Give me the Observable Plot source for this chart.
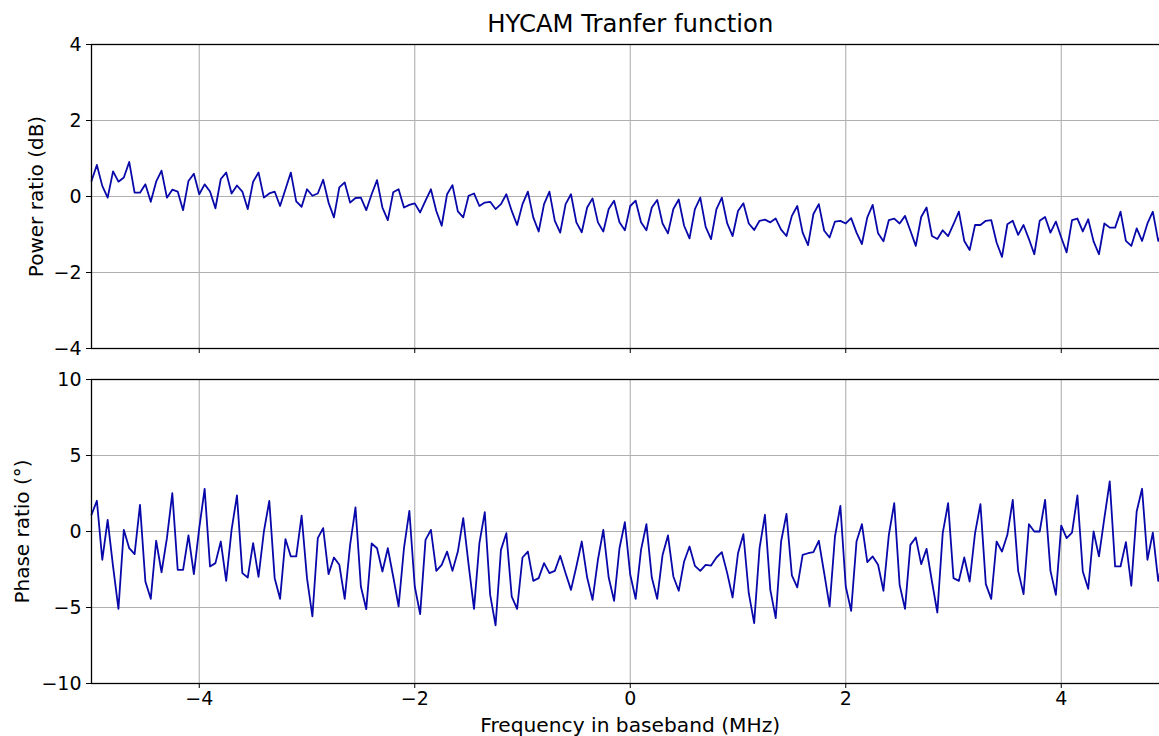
<!DOCTYPE html>
<html>
<head>
<meta charset="utf-8">
<script src="https://cdn.jsdelivr.net/npm/d3@7"></script>
<script src="https://cdn.jsdelivr.net/npm/@observablehq/plot@0.6"></script>
<style>
html, body { margin: 0; padding: 0; background: #fff; overflow: hidden; }
#wrap { position: relative; width: 1159px; height: 736px; overflow: hidden; }
#top, #bottom { position: absolute; left: 0; width: 1180px; }
#top { top: 0; }
#bottom { top: 360px; }
svg { max-width: none !important; }
</style>
</head>
<body>
<div id="wrap"><div id="top"></div><div id="bottom"></div></div>
<script>
// Sampling grid: -5 .. 5 MHz, 0.05 MHz step (201 samples)
const freqStart = -5, freqStep = 0.05;

const powerDb = [
  0.41, 0.83, 0.28, -0.03, 0.66, 0.39, 0.5, 0.91, 0.1, 0.1,
  0.32, -0.14, 0.39, 0.68, -0.03, 0.18, 0.13, -0.36, 0.41, 0.6,
  0.06, 0.32, 0.13, -0.31, 0.46, 0.63, 0.08, 0.29, 0.13, -0.33,
  0.39, 0.63, -0.03, 0.08, 0.13, -0.25, 0.19, 0.63, -0.13, -0.27,
  0.19, 0.02, 0.08, 0.44, -0.16, -0.55, 0.24, 0.37, -0.16, -0.04,
  -0.03, -0.36, 0.06, 0.43, -0.29, -0.62, 0.11, 0.19, -0.29, -0.22,
  -0.18, -0.42, -0.11, 0.19, -0.38, -0.77, 0.06, 0.30, -0.39, -0.55,
  0.02, 0.08, -0.25, -0.16, -0.14, -0.33, -0.2, 0.06, -0.38, -0.75,
  -0.2, 0.13, -0.55, -0.92, -0.2, 0.13, -0.64, -0.95, -0.2, 0.06,
  -0.68, -0.94, -0.29, -0.05, -0.68, -0.92, -0.33, -0.11, -0.68, -0.89,
  -0.25, -0.11, -0.68, -0.89, -0.29, -0.09, -0.71, -0.97, -0.33, -0.08,
  -0.77, -1.10, -0.33, -0.03, -0.8, -1.12, -0.33, -0.03, -0.71, -1.04,
  -0.38, -0.18, -0.71, -0.88, -0.64, -0.61, -0.68, -0.58, -0.87, -1.04,
  -0.51, -0.25, -0.95, -1.28, -0.46, -0.2, -0.9, -1.08, -0.66, -0.64,
  -0.71, -0.57, -0.95, -1.25, -0.55, -0.22, -0.97, -1.18, -0.62, -0.58,
  -0.71, -0.51, -0.9, -1.30, -0.54, -0.29, -1.04, -1.12, -0.89, -1.04,
  -0.73, -0.4, -1.17, -1.41, -0.75, -0.75, -0.64, -0.62, -1.21, -1.59,
  -0.73, -0.64, -1.01, -0.75, -1.12, -1.52, -0.64, -0.54, -0.95, -0.66,
  -1.08, -1.47, -0.62, -0.58, -0.92, -0.6, -1.18, -1.52, -0.71, -0.82,
  -0.82, -0.4, -1.17, -1.3, -0.84, -1.17, -0.71, -0.4, -1.17, -0.9,
  -0.6
];

const phaseDeg = [
  1.1, 2.02, -1.86, 0.77, -2.3, -5.09, 0.11, -1.1, -1.49, 1.75,
  -3.29, -4.43, -0.61, -2.68, -0.44, 2.52, -2.52, -2.52, -0.26, -2.81,
  0.22, 2.81, -2.3, -2.08, -0.66, -3.25, 0.11, 2.37, -2.74, -3.03,
  -0.77, -2.98, 0, 2.02, -3.07, -4.43, -0.5, -1.64, -1.64, 1.05,
  -3.07, -5.59, -0.44, 0.22, -2.81, -1.71, -2.19, -4.43, -0.88, 1.58,
  -3.62, -5.11, -0.79, -1.1, -2.63, -1.1, -2.96, -4.93, -1.1, 1.36,
  -3.62, -5.44, -0.55, 0.11, -2.59, -2.19, -1.32, -2.59, -1.32, 0.88,
  -2.19, -5.09, -0.77, 1.27, -4.17, -6.18, -1.21, -0.11, -4.28, -5.09,
  -1.71, -1.32, -3.25, -3.07, -2.08, -2.74, -2.59, -1.6, -2.74, -3.84,
  -2.3, -0.66, -3.03, -4.5, -1.86, 0.11, -3.03, -4.56, -1.1, 0.61,
  -2.85, -4.43, -1.21, 0.48, -3.03, -4.43, -1.54, -0.26, -2.96, -3.9,
  -1.97, -0.99, -2.26, -2.59, -2.19, -2.24, -1.71, -1.36, -2.74, -4.34,
  -1.43, -0.18, -4.06, -6.03, -1.1, 1.1, -3.84, -5.7, -0.66, 1.16,
  -2.89, -3.68, -1.54, -1.43, -1.36, -0.61, -2.74, -4.93, -0.33, 1.69,
  -3.62, -5.22, -0.66, 0.48, -2.02, -1.64, -2.19, -3.9, -0.22, 1.86,
  -3.51, -5.09, -0.88, -0.39, -2.15, -1.14, -3.29, -5.33, -0.11, 1.86,
  -3.07, -3.25, -1.71, -3.29, -0.11, 1.8, -3.46, -4.43, -0.66, -1.32,
  -0.22, 2.08, -2.59, -4.12, 0.48, 0, 0, 2.08, -2.59, -4.17,
  0.39, -0.44, -0.07, 2.37, -2.63, -3.77, 0, -1.64, 0.88, 3.29,
  -2.3, -2.3, -0.7, -3.57, 1.32, 2.81, -1.86, -0.07, -3.25, -1.5,
  0.5
];

const xTicks = [-4, -2, 0, 2, 4];
const powerTicks = [-4, -2, 0, 2, 4];
const phaseTicks = [-10, -5, 0, 5, 10];

const titleText = "HYCAM Tranfer function";
const powerLabel = "Power ratio (dB)";
const phaseLabel = "Phase ratio (°)";
const xLabel = "Frequency in baseband (MHz)";

const powerRows = powerDb.map((v, i) => ({f: freqStart + i * freqStep, v}));
const phaseRows = phaseDeg.map((v, i) => ({f: freqStart + i * freqStep, v}));

const fmt = d => d < 0 ? "\u2212" + Math.abs(d) : String(d);
const lineColor = "#0808aa";
const gridStyle = {stroke: "#b0b0b0", strokeOpacity: 1, strokeWidth: 1.1};
const font = "'DejaVu Sans', sans-serif";
const common = {
  width: 1180, marginLeft: 91, marginRight: 11.5,
  style: {fontFamily: font, fontSize: "19px", color: "#000", background: "transparent", overflow: "visible", maxWidth: "none"},
  x: {domain: [-5, 5]}
};

const topPlot = Plot.plot({
  ...common,
  height: 360, marginTop: 44, marginBottom: 12,
  y: {domain: [-4, 4]},
  marks: [
    Plot.gridX(xTicks, gridStyle),
    Plot.gridY(powerTicks, gridStyle),
    Plot.line(powerRows, {x: "f", y: "v", stroke: lineColor, strokeWidth: 1.8}),
    Plot.frame({stroke: "#000", strokeWidth: 1.3}),
    Plot.axisY(powerTicks, {tickSize: 5, tickPadding: 5, tickFormat: fmt, label: null, fontSize: 19}),
    Plot.axisX(xTicks, {tickSize: 5, tickFormat: () => "", label: null}),
    Plot.text([powerLabel], {frameAnchor: "left", dx: -55, rotate: -90, textAnchor: "middle", lineAnchor: "middle", fontSize: 20}),
    Plot.text([titleText], {frameAnchor: "top", dy: -20, textAnchor: "middle", lineAnchor: "middle", fontSize: 24.3})
  ]
});

const bottomPlot = Plot.plot({
  ...common,
  height: 376, marginTop: 19, marginBottom: 53,
  y: {domain: [-10, 10]},
  marks: [
    Plot.gridX(xTicks, gridStyle),
    Plot.gridY(phaseTicks, gridStyle),
    Plot.line(phaseRows, {x: "f", y: "v", stroke: lineColor, strokeWidth: 1.8}),
    Plot.frame({stroke: "#000", strokeWidth: 1.3}),
    Plot.axisY(phaseTicks, {tickSize: 5, tickPadding: 5, tickFormat: fmt, label: null, fontSize: 19}),
    Plot.axisX(xTicks, {tickSize: 5, tickPadding: 3, tickFormat: fmt, label: null, fontSize: 19}),
    Plot.text([phaseLabel], {frameAnchor: "left", dx: -69, rotate: -90, textAnchor: "middle", lineAnchor: "middle", fontSize: 20}),
    Plot.text([xLabel], {frameAnchor: "bottom", dy: 42, textAnchor: "middle", lineAnchor: "middle", fontSize: 20.2})
  ]
});

document.getElementById("top").appendChild(topPlot);
document.getElementById("bottom").appendChild(bottomPlot);
</script>
</body>
</html>
